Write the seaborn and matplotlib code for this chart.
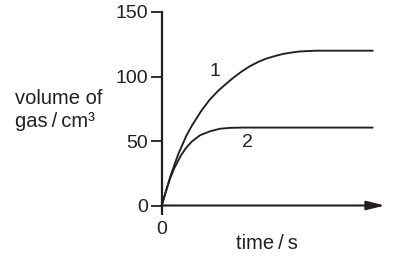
import numpy as np
import pandas as pd
import matplotlib
matplotlib.use("Agg")
import matplotlib.pyplot as plt
import seaborn as sns

# ---- data ----
time_1 = [0, 0.2, 0.4, 0.6, 0.79, 1.06, 1.18, 1.45, 1.9, 2.29, 2.68, 3.08, 3.39, 3.8, 4.18,
          4.6, 4.98, 5.4, 5.75, 6.2, 6.54, 7.0, 7.33, 8.0, 9.0, 10.0]
volume_1 = [0, 11, 22, 31.5, 40, 50, 54.5, 62.4, 74, 82.3, 89, 94.7, 99, 104, 108,
            111.5, 114, 116, 117.5, 118.7, 119.4, 119.8, 120, 120, 120, 120]
time_2 = [0, 0.2, 0.4, 0.6, 0.9, 1.15, 1.42, 1.82, 2.29, 2.76,
          3.24, 3.8, 5.0, 6.0, 7.0, 8.0, 9.0, 10.0]
volume_2 = [0, 11, 21, 29, 38.5, 44.5, 49.5, 54.5, 57.5, 59.5,
            60.2, 60.4, 60.4, 60.4, 60.4, 60.4, 60.4, 60.4]
y_ticks = [0, 50, 100, 150]
x_ticks = [0]
curve_labels = ["1", "2"]
curve_label_pos = [(2.53, 104), (4.07, 49)]

INK = "#231f20"

sns.set_theme(style="white")
plt.rcParams["font.family"] = ["Liberation Sans", "DejaVu Sans"]
plt.rcParams["text.color"] = INK

fig = plt.figure(figsize=(4.08, 2.63), dpi=100)
ax = fig.add_axes([161.7 / 408, 1 - 205.5 / 263, (385 - 161.7) / 408, (205.5 - 12) / 263])

df1 = pd.DataFrame({"t": time_1, "v": volume_1})
df2 = pd.DataFrame({"t": time_2, "v": volume_2})
for d in (df1, df2):
    sns.lineplot(data=d, x="t", y="v", ax=ax, color=INK, linewidth=1.35,
                 sort=False, estimator=None, clip_on=False)

ax.set_xlim(0, 10.58)
ax.set_ylim(0, 150)
ax.set_xlabel("")
ax.set_ylabel("")

for sp in ("top", "right", "bottom"):
    ax.spines[sp].set_visible(False)
ax.spines["left"].set_color(INK)
ax.spines["left"].set_linewidth(1.6)
ax.spines["left"].set_bounds(0, 150)

ax.set_yticks(y_ticks)
ax.set_xticks(x_ticks)
ax.tick_params(axis="y", direction="out", length=8, width=1.3, pad=1.8,
               labelsize=14, colors=INK, left=True)
ax.tick_params(axis="x", direction="out", length=6.5, width=1.6, pad=4.5,
               labelsize=14, colors=INK, bottom=True)

# x axis with arrow head
ax.annotate("", xy=(1.0, 0), xytext=(0, 0),
            xycoords=("axes fraction", "data"), textcoords=("axes fraction", "data"),
            arrowprops=dict(arrowstyle="-|>,head_length=1.1,head_width=0.27",
                            mutation_scale=10, color=INK, lw=1.5,
                            shrinkA=0, shrinkB=0),
            annotation_clip=False)

for lab, (lx, ly) in zip(curve_labels, curve_label_pos):
    ax.text(lx, ly, lab, fontsize=14, ha="center", va="center", color=INK)

fig.text(15 / 408, 1 - 104.5 / 263, "volume of", fontsize=14.5, ha="left",
         va="baseline", color=INK)
fig.text(15 / 408, 1 - 126.7 / 263, "gas\u2009/\u2009cm\u00b3", fontsize=14.5,
         ha="left", va="baseline", color=INK)
fig.text(267 / 408, 1 - 249 / 263, "time\u2009/\u2009s", fontsize=14.5,
         ha="center", va="baseline", color=INK)

fig.savefig("out.png", dpi=100, facecolor="white")
